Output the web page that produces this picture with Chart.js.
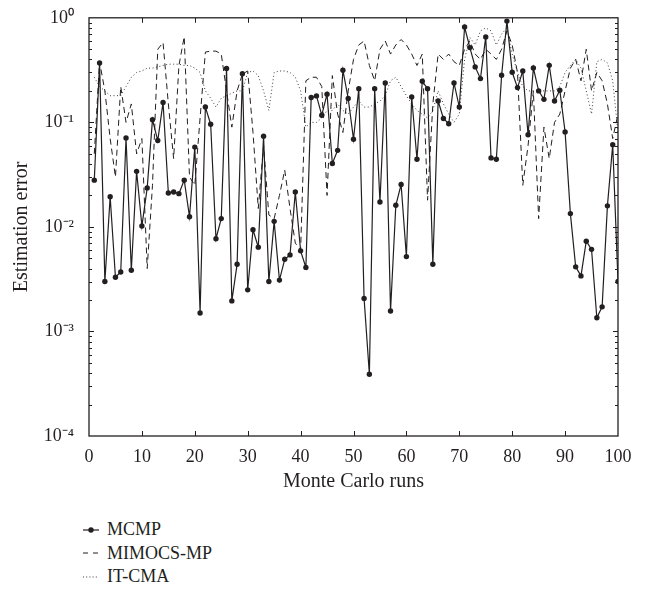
<!DOCTYPE html>
<html><head><meta charset="utf-8">
<script src="https://cdn.jsdelivr.net/npm/chart.js@4.4.1/dist/chart.umd.min.js"></script>
<style>
html,body{margin:0;padding:0;background:#fff;}
#wrap{position:relative;width:647px;height:592px;overflow:hidden;}
#c{position:absolute;left:0;top:0;}
#legend{position:absolute;left:83px;top:518px;font-family:"Liberation Serif","Times New Roman",serif;font-size:18px;color:#231f20;}
.row{height:23.5px;display:flex;align-items:center;white-space:nowrap;}
.row svg{margin-right:8px;display:block;}
</style></head>
<body><div id="wrap"><canvas id="c" width="647" height="500"></canvas><div id="legend"></div></div>
<script>
const runs = [1,2,3,4,5,6,7,8,9,10,11,12,13,14,15,16,17,18,19,20,21,22,23,24,25,26,27,28,29,30,31,32,33,34,35,36,37,38,39,40,41,42,43,44,45,46,47,48,49,50,51,52,53,54,55,56,57,58,59,60,61,62,63,64,65,66,67,68,69,70,71,72,73,74,75,76,77,78,79,80,81,82,83,84,85,86,87,88,89,90,91,92,93,94,95,96,97,98,99,100];
const mcmp = [0.028,0.37,0.003,0.0194,0.0033,0.0037,0.071,0.00385,0.034,0.0102,
0.0236,0.106,0.067,0.155,0.0211,0.0216,0.0208,0.028,0.0125,0.058,
0.0015,0.14,0.096,0.0077,0.012,0.327,0.00196,0.0044,0.292,0.0025,
0.0094,0.0064,0.0737,0.003,0.0113,0.0031,0.0049,0.0054,0.0216,0.0059,
0.0041,0.173,0.179,0.117,0.186,0.0404,0.054,0.315,0.169,0.069,
0.21,0.00207,0.00039,0.21,0.0173,0.238,0.00157,0.0161,0.0254,0.0052,
0.175,0.0444,0.247,0.21,0.0044,0.16,0.109,0.097,0.238,0.14,
0.817,0.519,0.339,0.262,0.656,0.0457,0.0444,0.282,0.93,0.301,
0.215,0.31,0.076,0.331,0.2,0.166,0.351,0.16,0.203,0.081,
0.0134,0.00415,0.0034,0.0073,0.0061,0.00135,0.00172,0.0159,0.061,0.003];
const mimocsMp = [0.05,0.38,0.2,0.07,0.03,0.22,0.1,0.15,0.05,0.07,
0.004,0.025,0.5,0.58,0.15,0.045,0.35,0.66,0.03,0.025,
0.11,0.47,0.48,0.48,0.45,0.2,0.09,0.2,0.29,0.31,
0.08,0.015,0.06,0.013,0.012,0.02,0.035,0.015,0.007,0.006,
0.25,0.27,0.27,0.22,0.02,0.28,0.12,0.08,0.2,0.4,
0.55,0.6,0.35,0.25,0.5,0.6,0.45,0.55,0.62,0.55,
0.45,0.35,0.45,0.018,0.15,0.45,0.4,0.45,0.38,0.35,
0.5,0.6,0.45,0.4,0.5,0.45,0.4,0.5,0.75,0.55,
0.3,0.025,0.06,0.2,0.012,0.09,0.045,0.1,0.12,0.2,
0.33,0.4,0.25,0.5,0.2,0.3,0.25,0.15,0.07,0.12];
const itCma = [0.27,0.22,0.2,0.18,0.18,0.18,0.22,0.27,0.3,0.31,
0.33,0.33,0.34,0.35,0.36,0.36,0.36,0.35,0.35,0.33,
0.3,0.2,0.17,0.14,0.17,0.18,0.19,0.2,0.2,0.3,
0.31,0.28,0.2,0.13,0.3,0.31,0.31,0.3,0.27,0.2,
0.09,0.1,0.1,0.11,0.13,0.13,0.15,0.13,0.12,0.14,
0.16,0.14,0.14,0.15,0.16,0.18,0.25,0.27,0.22,0.18,
0.15,0.13,0.12,0.11,0.13,0.2,0.15,0.12,0.1,0.12,
0.4,0.65,0.55,0.75,0.8,0.75,0.55,0.7,0.8,0.45,
0.3,0.22,0.2,0.2,0.2,0.2,0.2,0.2,0.22,0.3,
0.35,0.4,0.33,0.2,0.12,0.38,0.4,0.37,0.25,0.08];
const seriesNames = ['MCMP','MIMOCS-MP','IT-CMA'];
const xTickValues = [0,10,20,30,40,50,60,70,80,90,100];
const yTickValues = [0.0001,0.001,0.01,0.1,1];

const INK = '#231f20';
const FONT = '"Liberation Serif","Times New Roman",serif';
const SUP = {'-':'\u207B','0':'\u2070','1':'\u00B9','2':'\u00B2','3':'\u00B3','4':'\u2074','5':'\u2075'};
function powLabel(v){
  const e = Math.round(Math.log10(v));
  return '10' + String(e).split('').map(c=>SUP[c]).join('');
}
function pts(arr){ return runs.map((r,i)=>({x:r,y:arr[i]})); }

const framePlugin = {
  id:'frame',
  afterDraw(chart){
    const {ctx, chartArea:a, scales} = chart;
    const x = scales.x, y = scales.y;
    ctx.save();
    ctx.strokeStyle = INK;
    ctx.lineWidth = 1;
    ctx.beginPath();
    xTickValues.forEach(v=>{
      const px = Math.round(x.getPixelForValue(v))+0.5;
      if (px < a.left+2 || px > a.right-2) return;
      ctx.moveTo(px,a.bottom); ctx.lineTo(px,a.bottom-5);
      ctx.moveTo(px,a.top); ctx.lineTo(px,a.top+5);
    });
    yTickValues.forEach((v,i)=>{
      const py = Math.round(y.getPixelForValue(v))+0.5;
      if (py > a.top+2 && py < a.bottom-2){
        ctx.moveTo(a.left,py); ctx.lineTo(a.left+5,py);
        ctx.moveTo(a.right,py); ctx.lineTo(a.right-5,py);
      }
      if (i < yTickValues.length-1){
        for (let m=2;m<=9;m++){
          const pm = Math.round(y.getPixelForValue(v*m))+0.5;
          ctx.moveTo(a.left,pm); ctx.lineTo(a.left+3,pm);
          ctx.moveTo(a.right,pm); ctx.lineTo(a.right-3,pm);
        }
      }
    });
    ctx.stroke();
    ctx.lineWidth = 1.3;
    ctx.strokeRect(a.left, a.top, a.right-a.left, a.bottom-a.top);
    ctx.restore();
  }
};

const chart = new Chart(document.getElementById('c'), {
  type:'line',
  data:{datasets:[
    {label:seriesNames[0], data:pts(mcmp), borderColor:INK, backgroundColor:INK, borderWidth:1.2,
     pointRadius:2.7, pointBackgroundColor:INK, pointBorderWidth:0, pointHoverRadius:2.7, tension:0},
    {label:seriesNames[1], data:pts(mimocsMp), borderColor:INK, borderWidth:1, borderDash:[6,4],
     pointRadius:0, tension:0},
    {label:seriesNames[2], data:pts(itCma), borderColor:'#3a3a3a', borderWidth:1, borderDash:[1,2.5],
     pointRadius:0, tension:0}
  ]},
  options:{
    responsive:false, animation:false, devicePixelRatio:1,
    layout:{padding:{left:0,right:29,top:17,bottom:0}},
    plugins:{legend:{display:false}, tooltip:{enabled:false}},
    scales:{
      x:{type:'linear', min:0, max:100,
        grid:{display:false}, border:{display:false},
        afterBuildTicks:s=>{ s.ticks = xTickValues.map(v=>({value:v})); },
        afterFit:s=>{ s.height = 64; },
        ticks:{padding:2, color:INK, font:{family:FONT,size:18}, maxRotation:0, autoSkip:false,
               callback:v=>String(v)},
        title:{display:true, text:'Monte Carlo runs', color:INK, font:{family:FONT,size:20},
               padding:{top:0,bottom:6}}
      },
      y:{type:'logarithmic', min:0.0001, max:1,
        grid:{display:false}, border:{display:false},
        afterBuildTicks:s=>{ s.ticks = yTickValues.map(v=>({value:v})); },
        afterFit:s=>{ s.width = 89; },
        ticks:{padding:7, color:INK, font:{family:FONT,size:18}, autoSkip:false,
               callback:v=>powLabel(v)},
        title:{display:true, text:'Estimation error', color:INK, font:{family:FONT,size:20},
               padding:{top:10,bottom:0}}
      }
    }
  },
  plugins:[framePlugin]
});

// Legend built from the chart's own datasets
const leg = document.getElementById('legend');
chart.data.datasets.forEach((ds,i)=>{
  const row = document.createElement('div');
  row.className='row';
  let svg;
  if (i===0){
    svg = '<svg width="16" height="8"><line x1="0" y1="4" x2="16" y2="4" stroke="'+INK+'" stroke-width="1.2"/><circle cx="8" cy="4" r="2.7" fill="'+INK+'"/></svg>';
  } else if (i===1){
    svg = '<svg width="16" height="8"><line x1="0" y1="4" x2="16" y2="4" stroke="'+INK+'" stroke-width="1" stroke-dasharray="5,5"/></svg>';
  } else {
    svg = '<svg width="16" height="8"><line x1="0" y1="4" x2="16" y2="4" stroke="#3a3a3a" stroke-width="1" stroke-dasharray="1,2.2"/></svg>';
  }
  row.innerHTML = svg + '<span>'+ds.label+'</span>';
  leg.appendChild(row);
});
</script>
</body></html>
